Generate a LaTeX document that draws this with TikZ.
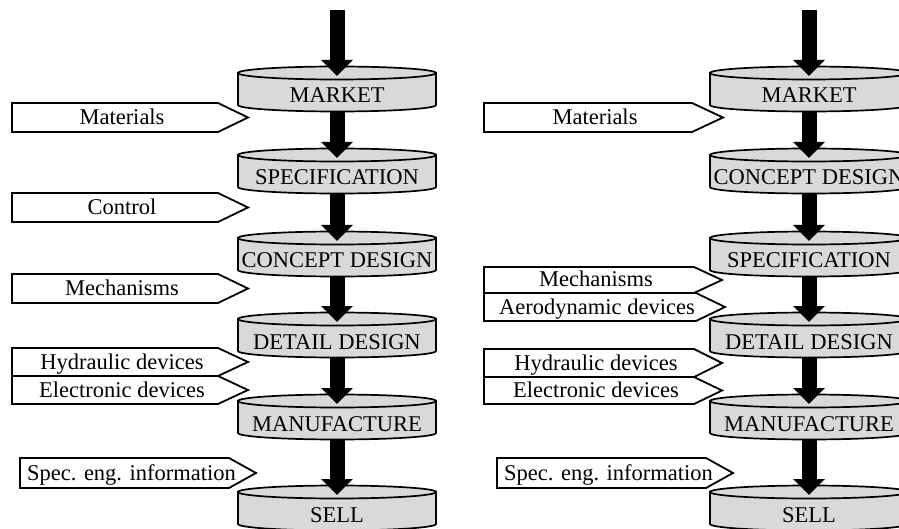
\documentclass[tikz,border=0pt]{standalone}
\usepackage{fontspec}
\setmainfont{Liberation Serif}
\usetikzlibrary{arrows.meta}
\definecolor{diskgray}{gray}{0.85}
\tikzset{
  diskbody/.style={fill=diskgray, draw=black, line width=1.7pt},
  disklabel/.style={font=\fontsize{22.5}{24}\selectfont, inner sep=0pt, anchor=base},
  inbox/.style={fill=white, draw=black, line width=1.8pt, line join=miter},
  inlabel/.style={font=\fontsize{22.5}{24}\selectfont, inner sep=0pt, anchor=base},
  flow/.style={line width=15pt, -{Triangle[width=31pt,length=16pt]}},
}
\newcommand{\mydisk}[4]{%
  \filldraw[diskbody] (#2-99,#3) -- (#2-99,#3+32) arc[start angle=180,end angle=360,x radius=99pt,y radius=6.5pt] -- (#2+99,#3) -- cycle;
  \filldraw[diskbody] (#2,#3) ellipse[x radius=99pt, y radius=6.5pt];
  \node[disklabel] (#1) at (#2,#3+30) {#4};
  \coordinate (#1-top) at (#2,#3+3);
  \coordinate (#1-bot) at (#2,#3+39);
}
\newcommand{\inarrow}[7]{%
  \draw[inbox] (#2,#3) -- (#5,#3) -- (#6,{(#3+#4)/2}) -- (#5,#4) -- (#2,#4) -- cycle;
  \node[inlabel] (#1) at ({(#2+#5)/2+7},{(#3+#4)/2+7}) {#7};
}
\begin{document}
\begin{tikzpicture}[x=1pt,y=-1pt]
\useasboundingbox (0,0) rectangle (899,529);
% ---------- left column ----------
\mydisk{la}{337}{73}{MARKET}
\mydisk{lb}{337}{155}{SPECIFICATION}
\mydisk{lc}{337}{238}{CONCEPT DESIGN}
\mydisk{ld}{337}{319}{DETAIL DESIGN}
\mydisk{le}{337}{401}{MANUFACTURE}
\mydisk{lf}{337}{492}{SELL}
\coordinate (lstart) at (337,10);
\draw[flow] (lstart) -- (la-top);
\draw[flow] (la-bot) -- (lb-top);
\draw[flow] (lb-bot) -- (lc-top);
\draw[flow] (lc-bot) -- (ld-top);
\draw[flow] (ld-bot) -- (le-top);
\draw[flow] (le-bot) -- (lf-top);
\inarrow{lmat}{12}{103}{132}{218}{248}{Materials}
\inarrow{lcon}{12}{193}{222}{218}{248}{Control}
\inarrow{lmec}{12}{274}{303}{218}{248}{Mechanisms}
\inarrow{lhyd}{12}{348}{376}{218}{248}{Hydraulic devices}
\inarrow{lele}{12}{376}{404}{218}{248}{Electronic devices}
\inarrow{lspe}{20}{458}{488}{229}{256}{Spec. eng. information}
% ---------- right column ----------
\mydisk{ra}{809}{73}{MARKET}
\mydisk{rb}{809}{155}{CONCEPT DESIGN}
\mydisk{rc}{809}{238}{SPECIFICATION}
\mydisk{rd}{809}{319}{DETAIL DESIGN}
\mydisk{re}{809}{401}{MANUFACTURE}
\mydisk{rf}{809}{492}{SELL}
\coordinate (rstart) at (809,10);
\draw[flow] (rstart) -- (ra-top);
\draw[flow] (ra-bot) -- (rb-top);
\draw[flow] (rb-bot) -- (rc-top);
\draw[flow] (rc-bot) -- (rd-top);
\draw[flow] (rd-bot) -- (re-top);
\draw[flow] (re-bot) -- (rf-top);
\inarrow{rmat}{484}{103}{132}{692}{723}{Materials}
\inarrow{rmec}{484}{267}{293}{694}{722}{Mechanisms}
\inarrow{raer}{484}{293}{321}{696}{725}{Aerodynamic devices}
\inarrow{rhyd}{484}{349}{377}{694}{722}{Hydraulic devices}
\inarrow{rele}{484}{377}{404}{694}{722}{Electronic devices}
\inarrow{rspe}{497}{458}{488}{706}{733}{Spec. eng. information}
\end{tikzpicture}
\end{document}
